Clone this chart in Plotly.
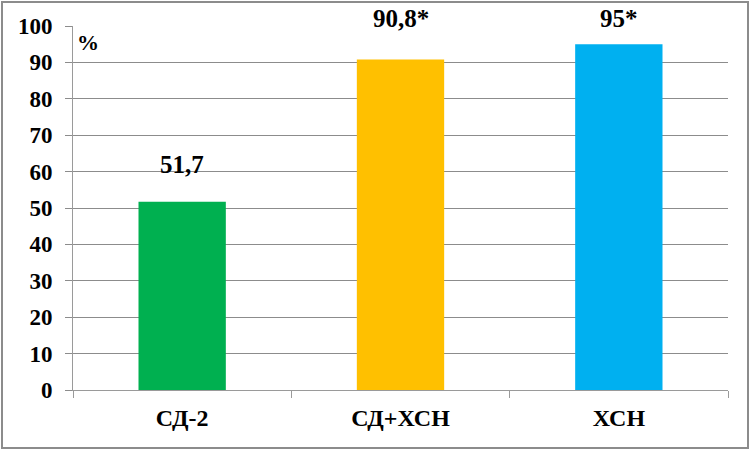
import plotly.graph_objects as go

categories = ['СД-2', 'СД+ХСН', 'ХСН']
values = [51.7, 90.8, 95]
value_labels = ['51,7', '90,8*', '95*']
bar_colours = ['#00B050', '#FFC000', '#00B0F0']
y_ticks = list(range(0, 101, 10))

font_name = 'Liberation Serif, Times New Roman, serif'
label_font = dict(family=font_name, size=25, color='black', weight='bold')

fig = go.Figure(go.Bar(
    x=categories, y=values,
    marker=dict(color=bar_colours, line=dict(width=0)),
    width=0.4,
))

# value labels sit well above the bars; the last one is pushed down so it stays on the page
label_shifts = [22, 25, 10]
for cat, val, lab, shift in zip(categories, values, value_labels, label_shifts):
    fig.add_annotation(x=cat, y=val, text=lab, showarrow=False,
                       yanchor='bottom', yshift=shift, font=label_font)

fig.add_annotation(x=0, y=1, xref='paper', yref='paper', text='%',
                   showarrow=False, xanchor='left', yanchor='top',
                   xshift=2, yshift=-2,
                   font=dict(family=font_name, size=22, color='black', weight='bold'))

fig.update_layout(
    width=752, height=451,
    margin=dict(l=73, r=24, t=26, b=61),
    paper_bgcolor='white', plot_bgcolor='white',
    showlegend=False,
    font=dict(family=font_name, size=22, color='black', weight='bold'),
    shapes=[dict(type='rect', xref='paper', yref='paper',
                 x0=-71/655, x1=1+20/655, y0=-58/364, y1=1+24/364,
                 line=dict(color='#8C8C8C', width=2))],
)
fig.update_xaxes(
    showline=True, linecolor='#9A9A9A', linewidth=1,
    ticks='outside', tickson='boundaries', ticklen=7, tickcolor='#9A9A9A',
    showgrid=False, ticklabelstandoff=6,
    tickfont=dict(family=font_name, size=24, color='black', weight='bold'),
)
fig.update_yaxes(
    range=[0, 100], tickvals=y_ticks,
    showline=True, linecolor='#9A9A9A', linewidth=1,
    ticks='outside', ticklen=7, tickcolor='#8C8C8C',
    showgrid=True, gridcolor='#8C8C8C', gridwidth=1,
    zeroline=False, ticklabelstandoff=8,
    tickfont=dict(family=font_name, size=23, color='black', weight='bold'),
)
fig.update_traces(cliponaxis=False)
fig.write_html('out.html', config={'displayModeBar': False},
               post_script="document.body.style.margin='0';")
